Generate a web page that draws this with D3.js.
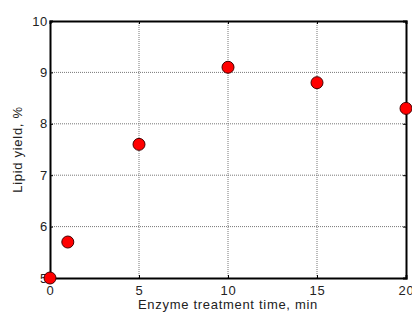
<!DOCTYPE html>
<html>
<head>
<meta charset="utf-8">
<script src="https://cdn.jsdelivr.net/npm/d3@7"></script>
<style>
  body { margin: 0; background: #fff; }
  svg text { font-family: Arial, "Liberation Sans", sans-serif; fill: #222; letter-spacing: 0.7px; }
  .grid line { stroke: #777; stroke-width: 1; stroke-dasharray: 1,1; }
  .axis path, .axis line { stroke: #000; }
</style>
</head>
<body>
<div id="chart"></div>
<script>
// data
const times = [0, 1, 5, 10, 15, 20];
const lipidYield = [5.0, 5.7, 7.6, 9.1, 8.8, 8.3];
const xTicks = [0, 5, 10, 15, 20];
const yTicks = [5, 6, 7, 8, 9, 10];

const w = 412, h = 313;
const m = {left: 50, right: 6, top: 21, bottom: 35};

const svg = d3.select("#chart").append("svg")
  .attr("width", w).attr("height", h);

const x = d3.scaleLinear().domain([0, 20]).range([m.left, w - m.right]);
const y = d3.scaleLinear().domain([5, 10]).range([h - m.bottom, m.top]);
const fmt = d3.format("d");

// grid
const grid = svg.append("g").attr("class", "grid");
grid.selectAll(".vx").data(xTicks.slice(1, -1)).enter().append("line")
  .attr("x1", d => x(d)).attr("x2", d => x(d))
  .attr("y1", y(5)).attr("y2", y(10));
grid.selectAll(".hy").data(yTicks.slice(1, -1)).enter().append("line")
  .attr("x1", x(0)).attr("x2", x(20))
  .attr("y1", d => y(d)).attr("y2", d => y(d));

// axes
const axBottom = svg.append("g").attr("class", "axis")
  .attr("transform", "translate(0," + y(5) + ")")
  .call(d3.axisBottom(x).tickValues(xTicks).tickFormat(fmt).tickSize(-3).tickPadding(8));
const axLeft = svg.append("g").attr("class", "axis")
  .attr("transform", "translate(" + x(0) + ",0)")
  .call(d3.axisLeft(y).tickValues(yTicks).tickFormat(fmt).tickSize(-3).tickPadding(2));
const axTop = svg.append("g").attr("class", "axis")
  .attr("transform", "translate(0," + y(10) + ")")
  .call(d3.axisTop(x).tickValues(xTicks).tickSize(-3).tickFormat(""));
const axRight = svg.append("g").attr("class", "axis")
  .attr("transform", "translate(" + x(20) + ",0)")
  .call(d3.axisRight(y).tickValues(yTicks).tickSize(-3).tickFormat(""));

[axBottom, axLeft, axTop, axRight].forEach(g => {
  g.select(".domain").attr("stroke-width", 2);
  g.selectAll("text").style("font-size", "13px").attr("fill", "#222");
});

// points
svg.selectAll("circle").data(times).enter().append("circle")
  .attr("cx", d => x(d))
  .attr("cy", (d, i) => y(lipidYield[i]))
  .attr("r", 6)
  .attr("fill", "#ff0000")
  .attr("stroke", "#400")
  .attr("stroke-width", 1);

// labels
svg.append("text")
  .attr("x", (x(0) + x(20)) / 2).attr("y", 309)
  .attr("text-anchor", "middle")
  .style("font-size", "13px")
  .text("Enzyme treatment time, min");

svg.append("text")
  .attr("transform", "translate(22," + (y(7.5)) + ") rotate(-90)")
  .attr("text-anchor", "middle")
  .style("font-size", "13px")
  .text("Lipid yield, %");
</script>
</body>
</html>
